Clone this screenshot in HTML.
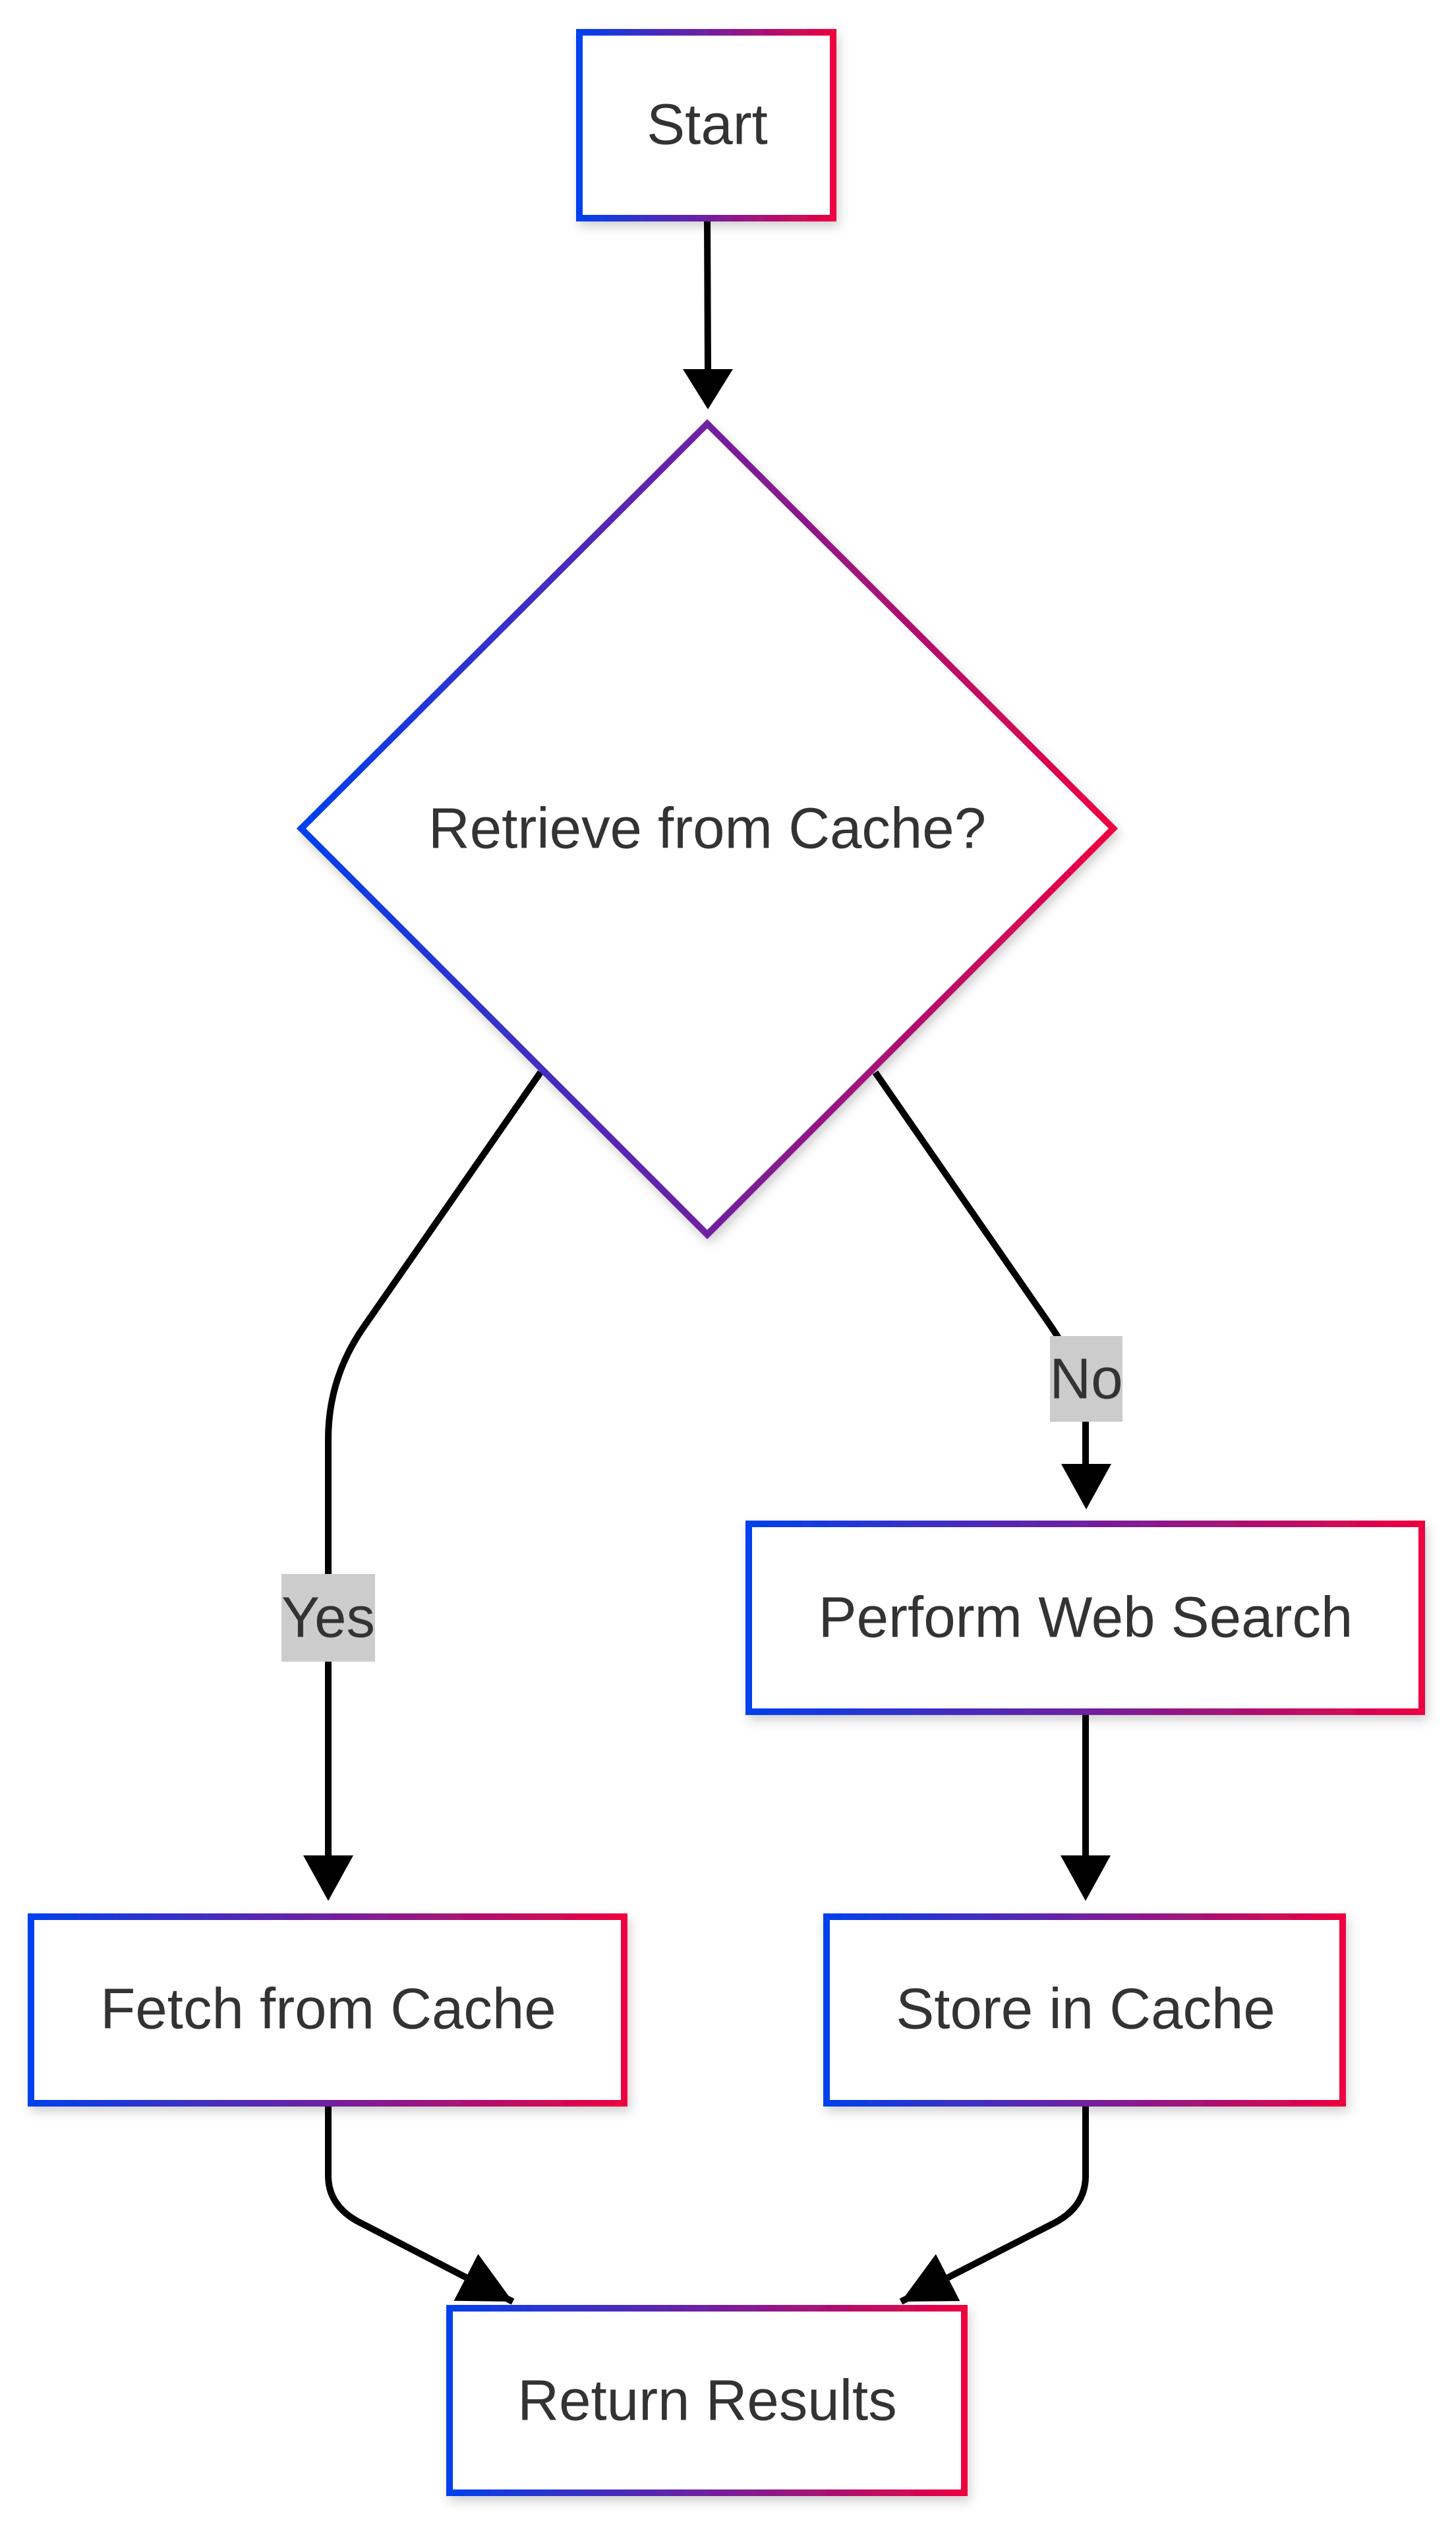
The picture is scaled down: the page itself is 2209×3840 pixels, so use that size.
<!DOCTYPE html>
<html><head><meta charset="utf-8"><style>html,body{margin:0;padding:0;background:#fff}svg{display:block}</style></head>
<body>
<svg width="2209" height="3840" viewBox="0 0 2209 3840" xmlns="http://www.w3.org/2000/svg">
<defs>
<linearGradient id="g" x1="0" y1="0" x2="1" y2="0">
<stop offset="0" stop-color="#0040ee"/><stop offset="0.5" stop-color="#7020a0"/><stop offset="1" stop-color="#ee0040"/>
</linearGradient>
<filter id="sh" x="-10%" y="-10%" width="120%" height="130%"><feDropShadow dx="4" dy="8" stdDeviation="8" flood-color="#000" flood-opacity="0.18"/></filter>
<marker id="ah" markerUnits="userSpaceOnUse" markerWidth="80" markerHeight="80" viewBox="0 0 10 10" refX="10" refY="5" orient="auto"><path d="M0,0 L10,5 L0,10 z" fill="#000"/></marker>
</defs>
<g fill="none" stroke="#000" stroke-width="10">
<path d="M1073,331 L1074,560" />
<path d="M1036,560 L1112,560 L1074,621 z" fill="#000" stroke="none"/>
<path d="M820,1627 L552,2013 Q498,2090 498,2184 L498,2815"/>
<path d="M460,2815 L536,2815 L498,2884 z" fill="#000" stroke="none"/>
<path d="M1328,1627 L1595,2013 Q1647,2090 1647,2160 L1647,2221"/>
<path d="M1610,2221 L1686,2221 L1648,2290 z" fill="#000" stroke="none"/>
<path d="M1647,2597 L1647,2815"/>
<path d="M1609,2815 L1685,2815 L1647,2884 z" fill="#000" stroke="none"/>
<path d="M498,3191 L498,3301 Q498,3350 552,3375 L778,3492" marker-end="url(#ah)"/>
<path d="M1647,3191 L1647,3301 Q1647,3350 1595,3375 L1367,3492" marker-end="url(#ah)"/>
</g>
<rect x="427" y="2388" width="142" height="133" fill="#cccccc"/>
<rect x="1593" y="2027" width="110" height="130" fill="#cccccc"/>
<g fill="#fff" stroke="url(#g)" stroke-width="10" filter="url(#sh)">
<rect x="879" y="49" width="385" height="282"/>
<path d="M1073,643 L1689,1257 L1073,1873 L457,1257 Z"/>
<rect x="1136" y="2312" width="1021" height="285"/>
<rect x="47" y="2908" width="900" height="283"/>
<rect x="1254" y="2908" width="783" height="283"/>
<rect x="682" y="3502" width="781" height="280"/>
</g>
<g font-family="Liberation Sans, Arial, sans-serif" font-size="87" fill="#333" text-anchor="middle" dominant-baseline="central">
<text x="1073" y="189">Start</text>
<text x="1073" y="1257">Retrieve from Cache?</text>
<text x="498" y="2454">Yes</text>
<text x="1648" y="2092">No</text>
<text x="1647" y="2454">Perform Web Search</text>
<text x="498" y="3048">Fetch from Cache</text>
<text x="1647" y="3048">Store in Cache</text>
<text x="1073" y="3642">Return Results</text>
</g>
</svg>
</body></html>
